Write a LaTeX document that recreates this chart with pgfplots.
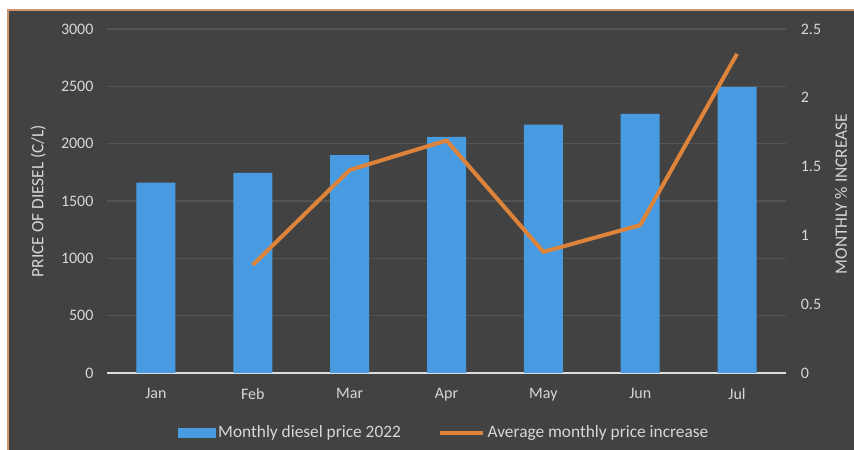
\documentclass[border=0pt]{standalone}
\usepackage{pgfplots}
\pgfplotsset{compat=1.18}
\usepackage{fontspec}
\setmainfont{Carlito}
\definecolor{bg}{RGB}{66,66,66}
\definecolor{gridc}{RGB}{84,84,84}
\definecolor{barblue}{RGB}{72,155,225}
\definecolor{lineor}{RGB}{222,132,58}
\definecolor{txt}{RGB}{215,215,215}
\definecolor{frame}{RGB}{205,150,110}
\begin{document}
\begin{tikzpicture}[x=0.75pt,y=0.75pt]
\path[use as bounding box] (0,0) rectangle (854,450);
\fill[white] (0,0) rectangle (854,450);
\fill[bg] (8,0) rectangle (854,440);
\draw[frame, line width=1pt] (8,0) -- (8,440) -- (854,440);
\begin{axis}[
  at={(80.625pt,57.75pt)}, anchor=south west,
  scale only axis, width=508.5pt, height=258pt,
  xmin=-0.5, xmax=6.5, ymin=0, ymax=3000,
  axis y line*=left, axis x line*=bottom,
  y axis line style={draw=none},
  x axis line style={draw=txt!85, line width=1.2pt, -},
  xtick={0,...,6},
  xticklabels={Jan,Feb,Mar,Apr,May,Jun,Jul},
  ytick={0,500,...,3000},
  major tick length=0pt,
  ymajorgrids, grid style={gridc, line width=0.8pt},
  ticklabel style={text=txt, font=\fontsize{12}{14}\selectfont},
  /pgf/number format/assume math mode=true,
  /pgf/number format/set thousands separator={},
  yticklabel style={xshift=-7pt},
  xticklabel style={yshift=-8pt},
  ylabel={PRICE OF DIESEL (C/L)},
  ylabel style={at={(axis description cs:-0.102,0.5)}, anchor=center, text=txt, font=\fontsize{13}{15}\selectfont},
  clip=false,
]
\addplot[ybar, bar width=29.25pt, fill=barblue, draw=none] coordinates {
  (0,1660) (1,1745) (2,1900) (3,2060) (4,2165) (5,2260) (6,2495)
};
\end{axis}
\begin{axis}[
  at={(80.625pt,57.75pt)}, anchor=south west,
  scale only axis, width=508.5pt, height=258pt,
  xmin=-0.5, xmax=6.5, ymin=0, ymax=2.5,
  axis y line*=right, axis x line=none,
  y axis line style={draw=none},
  ytick={0,0.5,...,2.5},
  yticklabels={0,0.5,1,1.5,2,2.5},
  major tick length=0pt,
  ticklabel style={text=txt, font=\fontsize{12}{14}\selectfont},
  /pgf/number format/assume math mode=true,
  yticklabel style={xshift=8pt},
  ylabel={MONTHLY \% INCREASE},
  ylabel style={at={(axis description cs:1.082,0.52)}, anchor=center, text=txt, font=\fontsize{13}{15}\selectfont},
  legend style={at={(0.497,-0.174)}, anchor=center, fill=none, draw=none,
    text=txt, font=\fontsize{13}{15}\selectfont, legend columns=2,
    /tikz/every even column/.append style={column sep=26pt}},
  clip=false,
]
\addlegendimage{legend image code/.code={\fill[barblue] (0pt,-3.4pt) rectangle (27.75pt,3.4pt);}}
\addlegendentry{Monthly diesel price 2022}
\addplot[lineor, line width=3pt, line join=round, legend image code/.code={\draw[lineor, line width=3pt] (0pt,0pt) -- (32pt,0pt);}] coordinates {
  (1,0.785) (2,1.475) (3,1.69) (4,0.88) (5,1.075) (6,2.32)
};
\addlegendentry{Average monthly price increase}
\end{axis}
\end{tikzpicture}
\end{document}
